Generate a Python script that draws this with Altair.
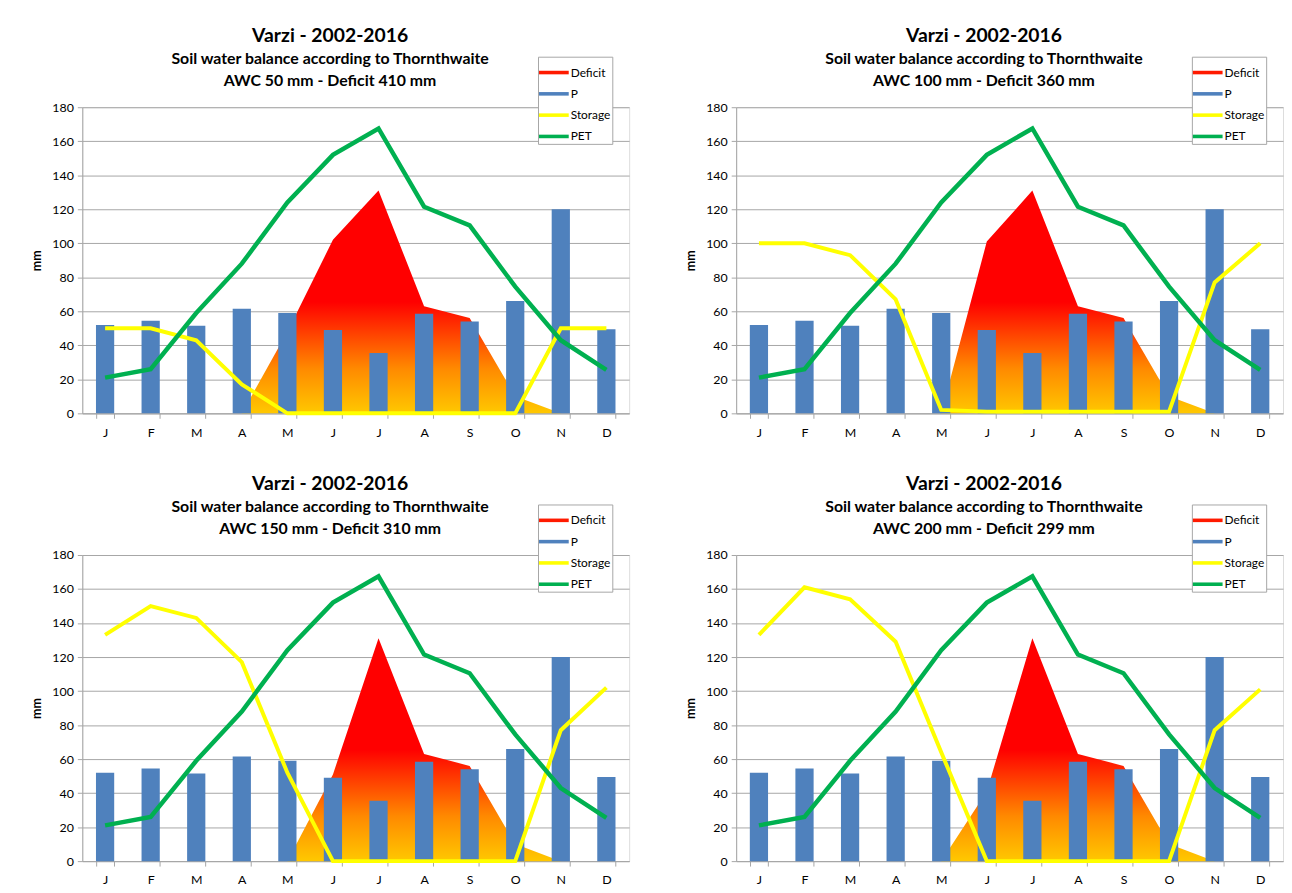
import altair as alt
import pandas as pd

months = ["Jan", "Feb", "Mar", "Apr", "May", "Jun", "Jul", "Aug", "Sep", "Oct", "Nov", "Dec"]
precip = [52, 54.5, 51.5, 61.5, 59, 49, 35.5, 58.5, 54, 66, 120, 49.5]
pet = [21, 26, 59, 88, 124, 152, 167.5, 121.5, 110.5, 74.5, 43, 25.5]
awc = [50, 100, 150, 200]
deficit_totals = [410, 360, 310, 299]
storage_50 = [50, 50, 43, 17, 0, 0, 0, 0, 0, 0, 50, 50]
storage_100 = [100, 100, 93, 67, 2, 1, 1, 1, 1, 1, 77, 100]
storage_150 = [133, 150, 143, 117, 52, 0, 0, 0, 0, 0, 77, 102]
storage_200 = [133, 161, 154, 129, 64, 0, 0, 0, 0, 0, 77, 101]
deficit_50 = [0, 0, 0, 0, 48, 102, 131, 63, 56, 10, 0, 0]
deficit_100 = [0, 0, 0, 0, 0, 101, 131, 63, 56, 10, 0, 0]
deficit_150 = [0, 0, 0, 0, 0, 51, 131, 63, 56, 10, 0, 0]
deficit_200 = [0, 0, 0, 0, 0, 41, 131, 63, 56, 10, 0, 0]
storages = [storage_50, storage_100, storage_150, storage_200]
deficits = [deficit_50, deficit_100, deficit_150, deficit_200]
legend_items = ["Deficit", "P", "Storage", "PET"]
legend_colors = ["#FF1A00", "#4F81BD", "#FFFF00", "#00B050"]

FONT = "Lato"
GRID = "#a6a6a6"

grad = alt.Gradient(
    gradient="linear",
    stops=[
        alt.GradientStop(color="#FF0000", offset=0),
        alt.GradientStop(color="#FF0000", offset=0.5),
        alt.GradientStop(color="#FF8A00", offset=0.8),
        alt.GradientStop(color="#FFC800", offset=1),
    ],
    x1=0, x2=0, y1=0, y2=1,
)

x_axis = alt.Axis(
    title=None, labelExpr="substring(datum.label, 0, 1)", tickBand="extent",
    labelAngle=0, grid=False, domainColor=GRID, tickColor=GRID, tickSize=5,
    labelPadding=8, labelFontSize=12.5, labelFont=FONT, labelColor="#000",
)
y_axis = alt.Axis(
    title="mm", values=list(range(0, 181, 20)), grid=True, gridColor=GRID,
    domainColor=GRID, tickColor=GRID, tickSize=5, labelPadding=4,
    labelFontSize=12.5, labelFont=FONT, labelColor="#000",
    titleFont=FONT, titleFontSize=12.5, titleFontWeight="bold", titleColor="#000",
    titlePadding=8,
)
x_scale = alt.Scale(domain=months, paddingInner=0.6, paddingOuter=0.3)
y_scale = alt.Scale(domain=[0, 180], nice=False)


def X():
    return alt.X("month:N", sort=months, scale=x_scale, axis=x_axis)


def Y(field):
    return alt.Y(f"{field}:Q", scale=y_scale, axis=y_axis)


def panel(i):
    df = pd.DataFrame({
        "month": months,
        "P": precip,
        "PET": pet,
        "Storage": storages[i],
        "Deficit": deficits[i],
        "series": ["P"] * 12,
    })
    base = alt.Chart(df)
    area = base.mark_area(color=grad, interpolate="linear").encode(x=X(), y=Y("Deficit"))
    bars = base.mark_bar(opacity=1).encode(
        x=X(), y=Y("P"),
        color=alt.Color(
            "series:N",
            scale=alt.Scale(domain=legend_items, range=legend_colors),
            legend=alt.Legend(
                title=None, orient="none", legendX=460, legendY=-51,
                symbolType="M-1,-0.12H1V0.12H-1Z", symbolSize=900,
                symbolStrokeWidth=0, symbolOpacity=1,
                labelFont=FONT, labelFontSize=12, labelColor="#000",
                fillColor="white", strokeColor=GRID, padding=1,
                rowPadding=0.5, labelOffset=2,
            ),
        ),
    )
    storage_line = base.mark_line(color="#FFFF00", strokeWidth=4).encode(x=X(), y=Y("Storage"))
    pet_line = base.mark_line(color="#00B050", strokeWidth=4.5).encode(x=X(), y=Y("PET"))
    return alt.layer(area, bars, storage_line, pet_line).properties(
        width=552, height=309,
        title=alt.TitleParams(
            text="Varzi - 2002-2016",
            subtitle=[
                "Soil water balance according to Thornthwaite",
                f"AWC {awc[i]} mm - Deficit {deficit_totals[i]} mm",
            ],
            anchor="middle", frame="bounds", font=FONT, fontSize=19.5,
            fontWeight="bold", color="#000", subtitleFont=FONT,
            subtitleFontSize=16, subtitleFontWeight="bold",
            subtitleColor="#000", subtitleLineHeight=22, subtitlePadding=5,
            offset=-34,
        ),
    ).resolve_scale(color="independent").resolve_legend(color="independent")


row1 = alt.hconcat(panel(0), panel(1), spacing=54).resolve_scale(color="independent").resolve_legend(color="independent")
row2 = alt.hconcat(panel(2), panel(3), spacing=54).resolve_scale(color="independent").resolve_legend(color="independent")
chart = alt.vconcat(row1, row2, spacing=34).resolve_scale(color="independent").resolve_legend(color="independent").properties(
    padding={"left": 22, "top": 13, "right": 0, "bottom": 0}
).configure_view(
    fill="#CCFFCC", stroke=GRID
).configure(background="white")

chart.save("out.html", embed_options={"renderer": "svg", "actions": False})
